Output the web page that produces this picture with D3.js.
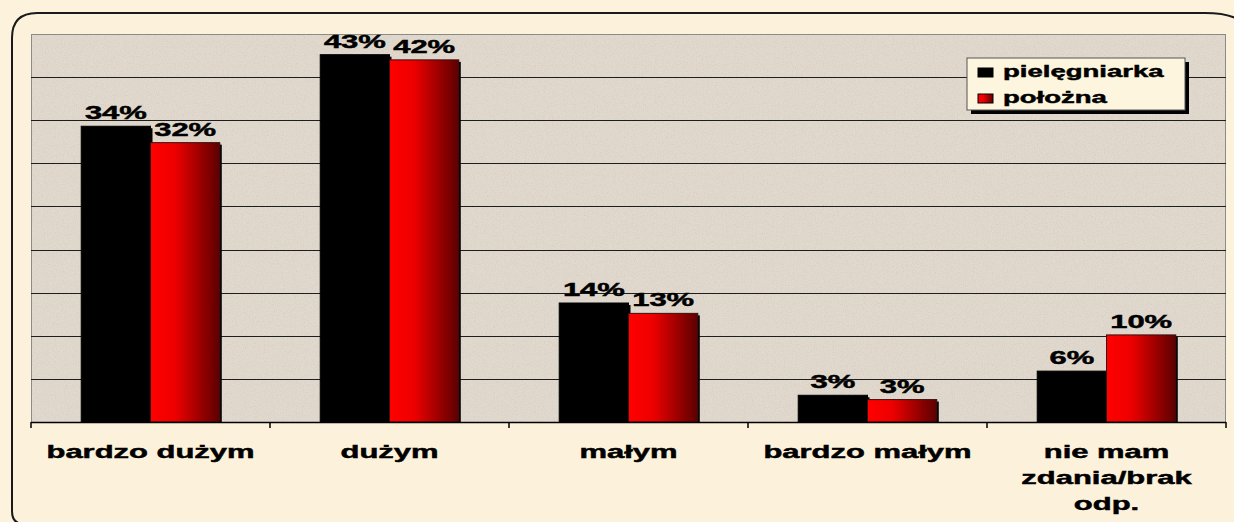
<!DOCTYPE html>
<html>
<head>
<meta charset="utf-8">
<script src="https://cdn.jsdelivr.net/npm/d3@7"></script>
<style>
  body { margin: 0; background: #fdf3dc; }
  svg text { font-family: "Liberation Sans", Arial, sans-serif; font-weight: bold; fill: #000; stroke: #000; stroke-width: 0.45px; }
</style>
</head>
<body>
<div id="main"></div>
<script>
// chart data
var categories = [["bardzo dużym"], ["dużym"], ["małym"], ["bardzo małym"], ["nie mam", "zdania/brak", "odp."]];
var seriesNames = ["pielęgniarka", "położna"];
var nurseValues = [34.3, 42.6, 13.8, 3.1, 5.9];
var midwifeValues = [32.4, 42.0, 12.6, 2.6, 10.1];
var yTicks = [5, 10, 15, 20, 25, 30, 35, 40, 45];

var ctx = {
    w: 1234,
    h: 522,
    left: 31, right: 1226, top: 34, bottom: 422,
    sx: 1.72   // the original text is stretched wide
};

var rows = categories.map(function(c, i){
    return {key: c.join(" "), lines: c, values: [nurseValues[i], midwifeValues[i]]};
});

var svg = d3.select("#main").append("svg")
    .attr("width", ctx.w)
    .attr("height", ctx.h);

var defs = svg.append("defs");
var grad = defs.append("linearGradient").attr("id", "redGrad")
    .attr("x1", "0%").attr("x2", "100%").attr("y1", "0%").attr("y2", "0%");
grad.append("stop").attr("offset", "0%").attr("stop-color", "#ff0000");
grad.append("stop").attr("offset", "35%").attr("stop-color", "#ee0000");
grad.append("stop").attr("offset", "100%").attr("stop-color", "#5c0000");

// speckled paper texture
var noise = defs.append("filter").attr("id", "speckle")
    .attr("x", 0).attr("y", 0).attr("width", "100%").attr("height", "100%");
noise.append("feTurbulence").attr("type", "fractalNoise")
    .attr("baseFrequency", "0.9").attr("numOctaves", 2).attr("seed", 3).attr("result", "n");
noise.append("feColorMatrix").attr("type", "matrix")
    .attr("values", "0 0 0 0 0.45  0 0 0 0 0.42  0 0 0 0 0.38  0 0 -1.6 0 0.9")
    .attr("result", "spots");
noise.append("feComposite").attr("in", "spots").attr("in2", "SourceGraphic").attr("operator", "in");

// outer background and frame (right and bottom edges run off the picture)
svg.append("rect").attr("width", ctx.w).attr("height", ctx.h).attr("fill", "#fdf3dc");
svg.append("path")
    .attr("d", "M12,511 L12,38 Q12,13 37,13 L1205,13 Q1240,13 1250,30 L1260,524 L24,524 Q12,524 12,511 Z")
    .attr("fill", "#fcf1da")
    .attr("stroke", "#1a1a1a")
    .attr("stroke-width", 2);

// scales
var x0 = d3.scaleBand().domain(rows.map(function(d){return d.key;}))
    .range([ctx.left, ctx.right]).paddingInner(0).paddingOuter(0);
var x1 = d3.scaleBand().domain(seriesNames)
    .range([0, x0.bandwidth()]).paddingInner(0).paddingOuter(0.725);
var y = d3.scaleLinear().domain([0, 45]).range([ctx.bottom, ctx.top]);

// plot area
svg.append("rect")
    .attr("x", ctx.left).attr("y", ctx.top)
    .attr("width", ctx.right - ctx.left).attr("height", ctx.bottom - ctx.top)
    .attr("fill", "#e1d9cd");
svg.append("rect")
    .attr("x", ctx.left).attr("y", ctx.top)
    .attr("width", ctx.right - ctx.left).attr("height", ctx.bottom - ctx.top)
    .attr("fill", "#ffffff").attr("opacity", 0.35)
    .attr("filter", "url(#speckle)");
svg.append("rect")
    .attr("x", ctx.left + 0.5).attr("y", ctx.top + 0.5)
    .attr("width", ctx.right - ctx.left - 1).attr("height", ctx.bottom - ctx.top)
    .attr("fill", "none").attr("stroke", "#8a8a8a");

// gridlines
svg.append("g").selectAll("line")
    .data(yTicks.slice(0, -1))
    .enter().append("line")
    .attr("x1", ctx.left).attr("x2", ctx.right)
    .attr("y1", function(d){return Math.round(y(d)) + 0.5;})
    .attr("y2", function(d){return Math.round(y(d)) + 0.5;})
    .attr("stroke", "#1e1e1e").attr("stroke-width", 1);

// bars
var groups = svg.append("g").selectAll("g")
    .data(rows).enter().append("g")
    .attr("transform", function(d){return "translate(" + x0(d.key) + ",0)";});

var cells = function(d){
    return d.values.map(function(v, i){return {name: seriesNames[i], v: v};});
};

// drop shadows first
groups.selectAll("rect.shadow")
    .data(cells).enter().append("rect")
    .attr("class", "shadow")
    .attr("x", function(d){return x1(d.name) + 2;})
    .attr("y", function(d){return y(d.v) + 2;})
    .attr("width", x1.bandwidth())
    .attr("height", function(d){return Math.max(0, ctx.bottom - y(d.v) - 2);})
    .attr("fill", "#000");

groups.selectAll("rect.bar")
    .data(cells).enter().append("rect")
    .attr("class", "bar")
    .attr("x", function(d){return x1(d.name);})
    .attr("y", function(d){return y(d.v);})
    .attr("width", x1.bandwidth())
    .attr("height", function(d){return ctx.bottom - y(d.v);})
    .attr("fill", function(d){return d.name === seriesNames[0] ? "#000" : "url(#redGrad)";})
    .attr("stroke", function(d){return d.name === seriesNames[0] ? "#000" : "#3a1010";})
    .attr("stroke-width", 1);

// value labels
var fmt = function(v){return Math.round(v) + "%";};
groups.selectAll("text.val")
    .data(cells).enter().append("text")
    .attr("class", "val")
    .attr("transform", function(d){
        return "translate(" + (x1(d.name) + x1.bandwidth() / 2) + "," + (y(d.v) - 7) + ") scale(" + ctx.sx + ",1)";
    })
    .attr("text-anchor", "middle")
    .style("font-size", "18px")
    .text(function(d){return fmt(d.v);});

// category axis
var axis = svg.append("g");
axis.append("line")
    .attr("x1", ctx.left).attr("x2", ctx.right)
    .attr("y1", ctx.bottom + 0.5).attr("y2", ctx.bottom + 0.5)
    .attr("stroke", "#000").attr("stroke-width", 1.5);
var tickXs = rows.map(function(d){return x0(d.key);}).concat([ctx.right]);
axis.selectAll("line.tick")
    .data(tickXs).enter().append("line")
    .attr("class", "tick")
    .attr("x1", function(d){return d;}).attr("x2", function(d){return d;})
    .attr("y1", ctx.bottom).attr("y2", ctx.bottom + 6)
    .attr("stroke", "#000").attr("stroke-width", 1.5);

var catLabels = axis.selectAll("g.cat")
    .data(rows).enter().append("g")
    .attr("class", "cat")
    .attr("transform", function(d){
        return "translate(" + (x0(d.key) + x0.bandwidth() / 2) + ",458) scale(" + ctx.sx + ",1)";
    });
catLabels.selectAll("text")
    .data(function(d){return d.lines;})
    .enter().append("text")
    .attr("text-anchor", "middle")
    .attr("y", function(d, i){return i * 26;})
    .style("font-size", "18px")
    .text(function(d){return d;});

// legend
var lg = svg.append("g").attr("transform", "translate(967,58)");
lg.append("rect").attr("x", 4).attr("y", 4).attr("width", 218).attr("height", 52).attr("fill", "#000");
lg.append("rect").attr("width", 218).attr("height", 52)
    .attr("fill", "#fdf5de").attr("stroke", "#555").attr("stroke-width", 1);
var items = lg.selectAll("g.item")
    .data(seriesNames).enter().append("g")
    .attr("class", "item")
    .attr("transform", function(d, i){return "translate(0," + (i * 26) + ")";});
items.append("rect")
    .attr("x", 11).attr("y", 10).attr("width", 15).attr("height", 9)
    .attr("fill", function(d, i){return i === 0 ? "#000" : "url(#redGrad)";})
    .attr("stroke", "#000").attr("stroke-width", 1);
items.append("text")
    .attr("transform", "translate(36,19) scale(" + ctx.sx + ",1)")
    .style("font-size", "16px")
    .text(function(d){return d;});
</script>
</body>
</html>
